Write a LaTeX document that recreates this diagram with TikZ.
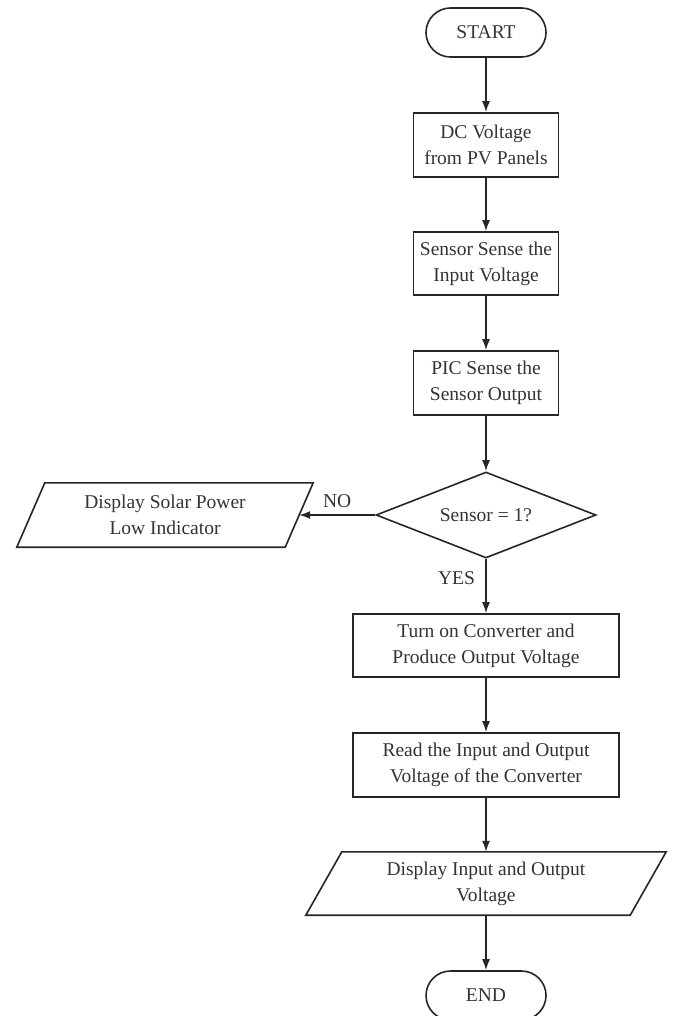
\documentclass[tikz,border=0pt]{standalone}
\usepackage{fontspec}
\setmainfont{Liberation Serif}
\usetikzlibrary{shapes.geometric,shapes.misc,arrows.meta}
\begin{document}
\begin{tikzpicture}[x=1pt,y=-1pt,
  every node/.style={font=\fontsize{19.5}{26}\selectfont, text=black!80},
  box/.style={draw=black!85, line width=1.6pt, rectangle, align=center, inner sep=0pt},
  term/.style={draw=black!85, line width=1.6pt, rounded rectangle, minimum width=120pt, minimum height=49pt, inner sep=0pt},
  dec/.style={draw=black!85, line width=1.6pt, diamond, aspect=2.56, minimum width=220pt, minimum height=86pt, inner sep=0pt},
  iotext/.style={rectangle, align=center, inner sep=0pt},
  para/.style={draw=black!85, line width=1.6pt, line join=miter},
  arr/.style={draw=black!85, line width=1.6pt, -{Latex[length=11pt,width=8pt]}},
  lbl/.style={font=\fontsize{19.5}{24}\selectfont}
]
\useasboundingbox (0,0) rectangle (672,1016);
\fill[white] (0,0) rectangle (672,1016);

\node[term] (start) at (486,32.5) {START};
\node[box, minimum width=145pt, minimum height=64pt] (b1) at (486,145) {DC Voltage\\from PV Panels};
\node[box, minimum width=145pt, minimum height=63pt] (b2) at (486,263.5) {Sensor Sense the\\Input Voltage};
\node[box, minimum width=145pt, minimum height=64pt] (b3) at (486,383) {PIC Sense the\\Sensor Output};
\node[dec] (dec) at (486,515) {Sensor = 1?};
\node[iotext, minimum width=268pt, minimum height=64pt] (d1) at (165,515) {Display Solar Power\\Low Indicator};
\draw[para] ([xshift=14pt]d1.north west) -- ([xshift=14pt]d1.north east) -- ([xshift=-14pt]d1.south east) -- ([xshift=-14pt]d1.south west) -- cycle;
\node[box, minimum width=266pt, minimum height=63pt] (b4) at (486,645.5) {Turn on Converter and\\Produce Output Voltage};
\node[box, minimum width=266pt, minimum height=64pt] (b5) at (486,765) {Read the Input and Output\\Voltage of the Converter};
\node[iotext, minimum width=324pt, minimum height=63pt] (d2) at (486,883.5) {Display Input and Output\\Voltage};
\draw[para] ([xshift=18pt]d2.north west) -- ([xshift=18pt]d2.north east) -- ([xshift=-18pt]d2.south east) -- ([xshift=-18pt]d2.south west) -- cycle;
\node[term] (end) at (486,995.5) {END};

\draw[arr] (start) -- (b1);
\draw[arr] (b1) -- (b2);
\draw[arr] (b2) -- (b3);
\draw[arr] (b3) -- (dec);
\draw[arr] (dec.west) -- node[lbl, above=3pt] {NO} (d1.east);
\draw[arr] (dec.south) -- node[lbl, pos=0.36, left=7pt] {YES} (b4.north);
\draw[arr] (b4) -- (b5);
\draw[arr] (b5) -- (d2);
\draw[arr] (d2) -- (end);
\end{tikzpicture}
\end{document}
